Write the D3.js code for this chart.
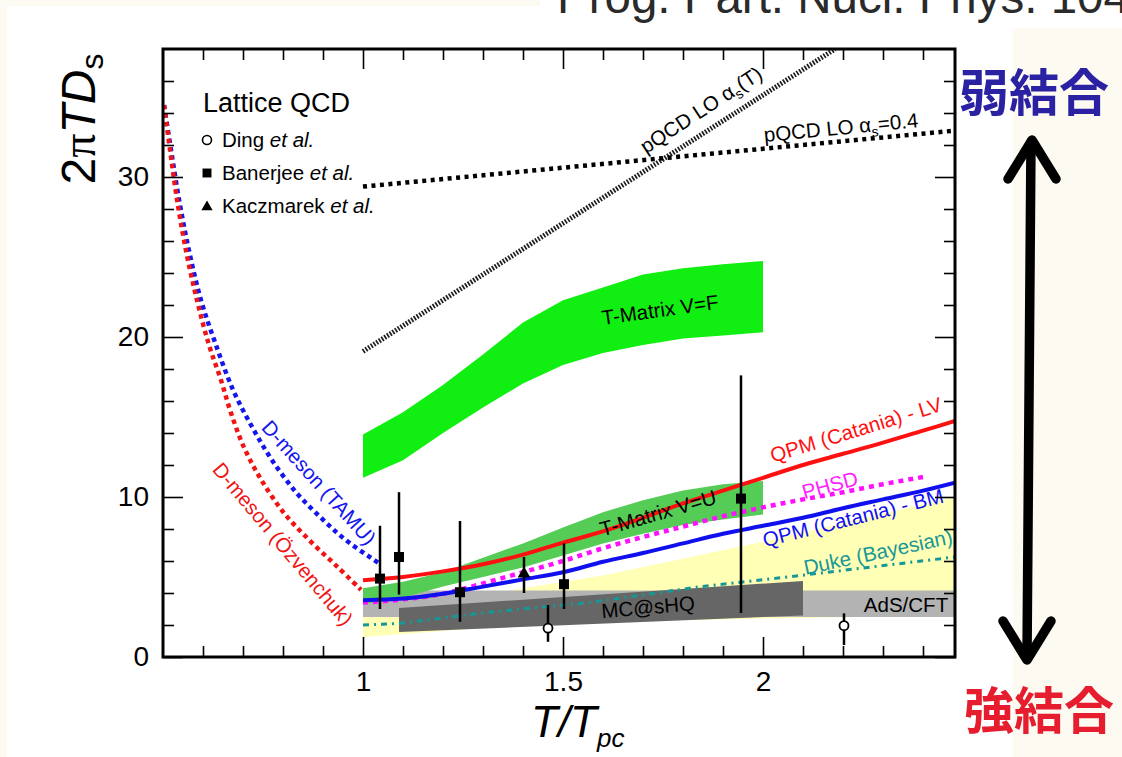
<!DOCTYPE html>
<html>
<head>
<meta charset="utf-8">
<script src="https://cdn.jsdelivr.net/npm/d3@7"></script>
<style>
  body { margin: 0; background: #fdfaf1; }
  svg { display: block; }
</style>
</head>
<body>
<svg id="chart" width="1122" height="757"></svg>
<script>
// ---- axis ticks ----
const xMajor = [1, 1.5, 2];
const xTickLabels = ["1", "1.5", "2"];
const yMajor = [0, 10, 20, 30];
const yTickLabels = ["0", "10", "20", "30"];

// ---- T-Matrix V=F band ----
const vfT    = [1.0, 1.1, 1.2, 1.3, 1.4, 1.5, 1.6, 1.7, 1.8, 1.9, 2.0];
const vfHigh = [13.9, 15.3, 17.0, 18.9, 20.9, 22.3, 23.1, 23.9, 24.3, 24.55, 24.75];
const vfLow  = [11.2, 12.3, 14.0, 15.6, 17.1, 18.25, 19.0, 19.5, 19.9, 20.1, 20.3];

// ---- T-Matrix V=U band ----
const vuT    = [1.0, 1.1, 1.2, 1.3, 1.4, 1.5, 1.6, 1.7, 1.8, 1.9, 2.0];
const vuHigh = [4.3, 4.7, 5.3, 6.2, 7.1, 8.1, 9.05, 9.8, 10.4, 10.8, 11.0];
const vuLow  = [3.3, 3.7, 4.4, 5.0, 5.6, 6.35, 7.1, 7.7, 8.25, 8.6, 8.9];

// ---- Duke (Bayesian) band ----
const dukeBandT    = [1.0, 1.4, 1.6, 2.0, 2.48];
const dukeBandHigh = [2.5, 4.3, 5.1, 7.2, 10.0];
const dukeBandLow  = [1.25, 2.0, 2.2, 2.4, 2.6];

// ---- AdS/CFT band ----
const adsT    = [1.0, 2.48];
const adsHigh = [4.15, 4.15];
const adsLow  = [2.5, 2.5];

// ---- MC@sHQ band ----
const mcT    = [1.09, 2.1];
const mcHigh = [3.06, 4.75];
const mcLow  = [1.56, 2.6];

// ---- QPM (Catania) - LV ----
const lvT = [1.0, 1.1, 1.2, 1.3, 1.4, 1.5, 1.6, 1.7, 1.8, 1.9, 2.0, 2.1, 2.2, 2.3, 2.4, 2.48];
const lvD = [4.8, 5.0, 5.35, 5.8, 6.4, 7.15, 7.85, 8.7, 9.6, 10.4, 11.2, 12.0, 12.7, 13.4, 14.15, 14.75];

// ---- QPM (Catania) - BM ----
const bmT = [1.0, 1.1, 1.2, 1.3, 1.4, 1.5, 1.6, 1.7, 1.8, 1.9, 2.0, 2.1, 2.2, 2.3, 2.4, 2.48];
const bmD = [3.55, 3.65, 3.95, 4.4, 4.85, 5.3, 5.95, 6.5, 7.1, 7.7, 8.2, 8.7, 9.3, 9.85, 10.4, 10.9];

// ---- PHSD ----
const phsdT = [1.0, 1.1, 1.2, 1.3, 1.4, 1.5, 1.6, 1.7, 1.8, 1.9, 2.0, 2.1, 2.2, 2.3, 2.4];
const phsdD = [3.4, 3.6, 3.95, 4.6, 5.3, 6.0, 6.8, 7.5, 8.15, 8.8, 9.35, 9.85, 10.3, 10.8, 11.25];

// ---- Duke (Bayesian) central line ----
const dukeT = [1.0, 1.09, 1.315, 1.565, 1.845, 2.095, 2.48];
const dukeD = [2.0, 2.1, 2.8, 3.4, 4.4, 5.1, 6.25];

// ---- D-meson (TAMU) ----
const tamuT = [0.5025, 0.52, 0.54, 0.565, 0.595, 0.6325, 0.675, 0.72, 0.77, 0.8325, 0.895, 0.9575, 1.0375];
const tamuD = [34.5, 31.7, 28.6, 25.4, 22.3, 19.5, 16.7, 14.5, 12.4, 10.3, 8.7, 7.3, 5.9];

// ---- D-meson (Ozvenchuk) ----
const ozvT = [0.5025, 0.5175, 0.535, 0.5575, 0.585, 0.615, 0.645, 0.67, 0.7025, 0.745, 0.8025, 0.87, 0.9375, 0.995];
const ozvD = [34.5, 31.7, 28.6, 25.4, 22.3, 19.5, 17.3, 15.25, 13.1, 11.1, 9.0, 7.2, 5.6, 4.2];

// ---- pQCD LO ----
const pqcdRunT = [1.0, 2.18];
const pqcdRunD = [19.1, 38.0];
const pqcdFixT = [1.0, 2.48];
const pqcdFixD = [29.4, 32.9];

// ---- lattice QCD points ----
const banerjeeT  = [1.0425, 1.09, 1.2425, 1.5025, 1.945];
const banerjeeD  = [4.9, 6.25, 4.05, 4.55, 9.9];
const banerjeeLo = [3.0, 3.9, 2.2, 3.0, 2.75];
const banerjeeHi = [8.2, 10.3, 8.5, 7.1, 17.6];
const kaczT  = [1.4025];
const kaczD  = [5.2];
const kaczLo = [4.0];
const kaczHi = [6.25];
const dingT  = [1.4625, 2.2025];
const dingD  = [1.8, 1.96];
const dingLo = [0.95, 0.75];
const dingHi = [3.25, 2.73];

const SANS = "'Liberation Sans', Arial, Helvetica, sans-serif";
const CJK = "'Noto Sans CJK JP', 'Noto Sans CJK SC', sans-serif";

const svg = d3.select("#chart");
const zip = (a, b) => a.map((v, i) => [v, b[i]]);
const zip3 = (a, b, c) => a.map((v, i) => [v, b[i], c[i]]);

// page background panels
svg.append("rect").attr("x", 0).attr("y", 0).attr("width", 1122).attr("height", 757).attr("fill", "#fdfaf1");
svg.append("rect").attr("x", 7).attr("y", 6).attr("width", 1006).attr("height", 751).attr("fill", "#ffffff");
svg.append("rect").attr("x", 540).attr("y", 0).attr("width", 582).attr("height", 28).attr("fill", "#ffffff");

// journal reference line running off the top edge
svg.append("text")
  .attr("x", 557).attr("y", 13)
  .attr("font-family", SANS).attr("font-size", 47.5).attr("fill", "#2a2a2a")
  .text("Prog. Part. Nucl. Phys. 104");

// scales
const x = d3.scaleLinear().domain([0.5, 2.48]).range([163, 955]);
const y = d3.scaleLinear().domain([0, 38]).range([657, 49]);

svg.append("defs").append("clipPath").attr("id", "plot")
  .append("rect").attr("x", 163).attr("y", 49).attr("width", 792).attr("height", 608);

const plot = svg.append("g").attr("clip-path", "url(#plot)");

const area = d3.area().x(d => x(d[0])).y0(d => y(d[2])).y1(d => y(d[1]));
const smooth = d3.line().x(d => x(d[0])).y(d => y(d[1])).curve(d3.curveMonotoneX);
const straight = d3.line().x(d => x(d[0])).y(d => y(d[1]));
const catmull = d3.line().x(d => x(d[0])).y(d => y(d[1])).curve(d3.curveCatmullRom.alpha(0.5));

// bands
plot.append("path").attr("d", area(zip3(dukeBandT, dukeBandHigh, dukeBandLow))).attr("fill", "#ffffb5");
plot.append("path").attr("d", area(zip3(adsT, adsHigh, adsLow))).attr("fill", "#b3b3b3");
plot.append("path").attr("d", area(zip3(mcT, mcHigh, mcLow))).attr("fill", "#666666");
plot.append("path").attr("d", area(zip3(vuT, vuHigh, vuLow))).attr("fill", "#55cc55");
plot.append("path").attr("d", area(zip3(vfT, vfHigh, vfLow))).attr("fill", "#11ee11");

// curves
const curve = (gen, data, color, width, dash) => plot.append("path")
  .attr("d", gen(data)).attr("fill", "none").attr("stroke", color)
  .attr("stroke-width", width).attr("stroke-dasharray", dash || null);

curve(straight, zip(pqcdRunT, pqcdRunD), "#1e1e1e", 5, "1.7 1.5");
curve(straight, zip(pqcdFixT, pqcdFixD), "#000000", 4.5, "4 4.5");
curve(straight, zip(dukeT, dukeD), "#179797", 3, "6 5 2 5");
curve(catmull, zip(tamuT, tamuD), "#1515ee", 4.5, "4.5 4");
curve(catmull, zip(ozvT, ozvD), "#f01515", 4.5, "4.5 4");
curve(smooth, zip(phsdT, phsdD), "#ff11ff", 4.5, "5 5");
curve(smooth, zip(bmT, bmD), "#1010ee", 4);
curve(smooth, zip(lvT, lvD), "#ff1010", 4);

// in-plot labels
const label = (t, d, angle, color, parts) => {
  const el = plot.append("text")
    .attr("transform", `translate(${x(t)},${y(d)}) rotate(${angle})`)
    .attr("text-anchor", "middle").attr("dy", "0.35em")
    .attr("font-family", SANS).attr("font-size", 20.5).attr("fill", color);
  parts.forEach(p => {
    const s = el.append("tspan").text(p.s);
    if (p.italic) s.attr("font-style", "italic");
    if (p.size) s.attr("font-size", p.size);
    if (p.dy) s.attr("dy", p.dy);
  });
  return el;
};
label(0.89, 10.9, 48, "#1515ee", [{s: "D-meson (TAMU)"}]);
label(0.80, 7.06, 50, "#f01515", [{s: "D-meson (Özvenchuk)"}]);
label(2.2325, 14.2, -17, "#ff1010", [{s: "QPM (Catania) - LV"}]);
label(2.225, 8.7, -14, "#1010ee", [{s: "QPM (Catania) - BM"}]);
label(2.1675, 10.75, -15, "#ff22ff", [{s: "PHSD"}]);
label(2.2875, 6.56, -12, "#179797", [{s: "Duke (Bayesian)"}]);
label(1.7375, 9.0, -16, "#000000", [{s: "T-Matrix V=U"}]);
label(1.7425, 21.7, -8, "#000000", [{s: "T-Matrix V=F"}]);
label(1.7125, 3.125, -5, "#000000", [{s: "MC@sHQ"}]);
label(2.3575, 3.25, 0, "#000000", [{s: "AdS/CFT"}]);
label(1.845, 34.2, -33, "#000000", [{s: "pQCD LO α"}, {s: "s", size: 14, dy: 5}, {s: "(T)", dy: -5}]);
label(2.195, 33.1, -5.5, "#000000", [{s: "pQCD LO α"}, {s: "s", size: 14, dy: 5}, {s: "=0.4", dy: -5}]);

// lattice QCD points with error bars
const bars = (T, lo, hi) => plot.append("g").selectAll("line").data(zip3(T, lo, hi)).join("line")
  .attr("x1", d => x(d[0])).attr("x2", d => x(d[0]))
  .attr("y1", d => y(d[1])).attr("y2", d => y(d[2]))
  .attr("stroke", "#000").attr("stroke-width", 2.5);
bars(banerjeeT, banerjeeLo, banerjeeHi);
bars(kaczT, kaczLo, kaczHi);
bars(dingT, dingLo, dingHi);

const square = d3.symbol().type(d3.symbolSquare).size(100);
const triangle = d3.symbol().type(d3.symbolTriangle).size(70);
plot.append("g").selectAll("path").data(zip(banerjeeT, banerjeeD)).join("path")
  .attr("d", square).attr("transform", d => `translate(${x(d[0])},${y(d[1])})`).attr("fill", "#000");
plot.append("g").selectAll("path").data(zip(kaczT, kaczD)).join("path")
  .attr("d", triangle).attr("transform", d => `translate(${x(d[0])},${y(d[1])})`).attr("fill", "#000");
plot.append("g").selectAll("circle").data(zip(dingT, dingD)).join("circle")
  .attr("cx", d => x(d[0])).attr("cy", d => y(d[1])).attr("r", 4.5)
  .attr("fill", "#fff").attr("stroke", "#000").attr("stroke-width", 1.8);

// axes: ticks point inward on all four sides
const xMinor = d3.range(6, 25).map(v => v / 10).filter(v => !xMajor.includes(v));
const yMinor = d3.range(2, 38, 2).filter(v => !yMajor.includes(v));
const styleAxis = g => {
  g.select(".domain").remove();
  g.selectAll(".tick line").attr("stroke", "#000").attr("stroke-width", 1.6);
  g.selectAll("text").attr("font-family", SANS).attr("font-size", 28).attr("fill", "#000");
};
const addAxis = (axis, tr) => svg.append("g").attr("transform", tr).call(axis).call(styleAxis);

addAxis(d3.axisBottom(x).tickValues(xMinor).tickSize(-11).tickFormat(""), "translate(0,657)");
addAxis(d3.axisBottom(x).tickValues(xMajor).tickSize(-20).tickPadding(14)
  .tickFormat((d, i) => xTickLabels[i]), "translate(0,657)");
addAxis(d3.axisTop(x).tickValues(xMinor).tickSize(-11).tickFormat(""), "translate(0,49)");
addAxis(d3.axisTop(x).tickValues(xMajor).tickSize(-20).tickFormat(""), "translate(0,49)");
addAxis(d3.axisLeft(y).tickValues(yMinor).tickSize(-11).tickFormat(""), "translate(163,0)");
addAxis(d3.axisLeft(y).tickValues(yMajor).tickSize(-20).tickPadding(14)
  .tickFormat((d, i) => yTickLabels[i]), "translate(163,0)");
addAxis(d3.axisRight(y).tickValues(yMinor).tickSize(-11).tickFormat(""), "translate(955,0)");
addAxis(d3.axisRight(y).tickValues(yMajor).tickSize(-20).tickFormat(""), "translate(955,0)");

svg.append("rect").attr("x", 163).attr("y", 49).attr("width", 792).attr("height", 608)
  .attr("fill", "none").attr("stroke", "#000").attr("stroke-width", 3);

// axis titles
const yTitle = svg.append("text").attr("transform", "translate(95,119) rotate(-90)")
  .attr("text-anchor", "middle").attr("font-family", SANS).attr("font-size", 48).attr("fill", "#000");
yTitle.append("tspan").text("2");
yTitle.append("tspan").attr("font-family", "'Liberation Serif', serif").text("π");
yTitle.append("tspan").attr("font-style", "italic").text("TD");
yTitle.append("tspan").attr("font-size", 32).attr("dy", 8).text("s");

const xTitle = svg.append("text").attr("x", 531).attr("y", 737)
  .attr("font-family", SANS).attr("font-size", 44).attr("font-style", "italic").attr("fill", "#000");
xTitle.append("tspan").text("T/T");
xTitle.append("tspan").attr("font-size", 26).attr("dy", 10).text("pc");

// legend
const legend = svg.append("g").attr("font-family", SANS).attr("fill", "#000");
legend.append("text").attr("x", 203).attr("y", 112).attr("font-size", 27).text("Lattice QCD");
const legendNames = ["Ding ", "Banerjee ", "Kaczmarek "];
const legendY = [147, 180, 213];
legendNames.forEach((n, i) => {
  const t = legend.append("text").attr("x", 222).attr("y", legendY[i]).attr("font-size", 20.5);
  t.append("tspan").text(n);
  t.append("tspan").attr("font-style", "italic").text("et al.");
});
legend.append("circle").attr("cx", 207).attr("cy", 140).attr("r", 4.5)
  .attr("fill", "#fff").attr("stroke", "#000").attr("stroke-width", 1.6);
legend.append("path").attr("d", d3.symbol().type(d3.symbolSquare).size(80)).attr("transform", "translate(207,173)");
legend.append("path").attr("d", d3.symbol().type(d3.symbolTriangle).size(55)).attr("transform", "translate(207,207)");

// coupling-strength arrow and captions
svg.append("text").attr("x", 1034).attr("y", 93).attr("dy", "0.35em").attr("text-anchor", "middle")
  .attr("font-family", CJK).attr("font-weight", 700).attr("font-size", 50).attr("fill", "#2b21a3").text("弱結合");
svg.append("text").attr("x", 1039).attr("y", 711).attr("dy", "0.35em").attr("text-anchor", "middle")
  .attr("font-family", CJK).attr("font-weight", 700).attr("font-size", 50).attr("fill", "#e51d2e").text("強結合");

const arrow = svg.append("g").attr("fill", "none").attr("stroke", "#000").attr("stroke-width", 9.5)
  .attr("stroke-linecap", "round").attr("stroke-linejoin", "round");
arrow.append("path").attr("d", "M1031,142 L1027,658");
arrow.append("path").attr("d", "M1008,179 L1032,140 L1056,179");
arrow.append("path").attr("d", "M1003,621 L1027,660 L1051,621");
</script>
</body>
</html>
